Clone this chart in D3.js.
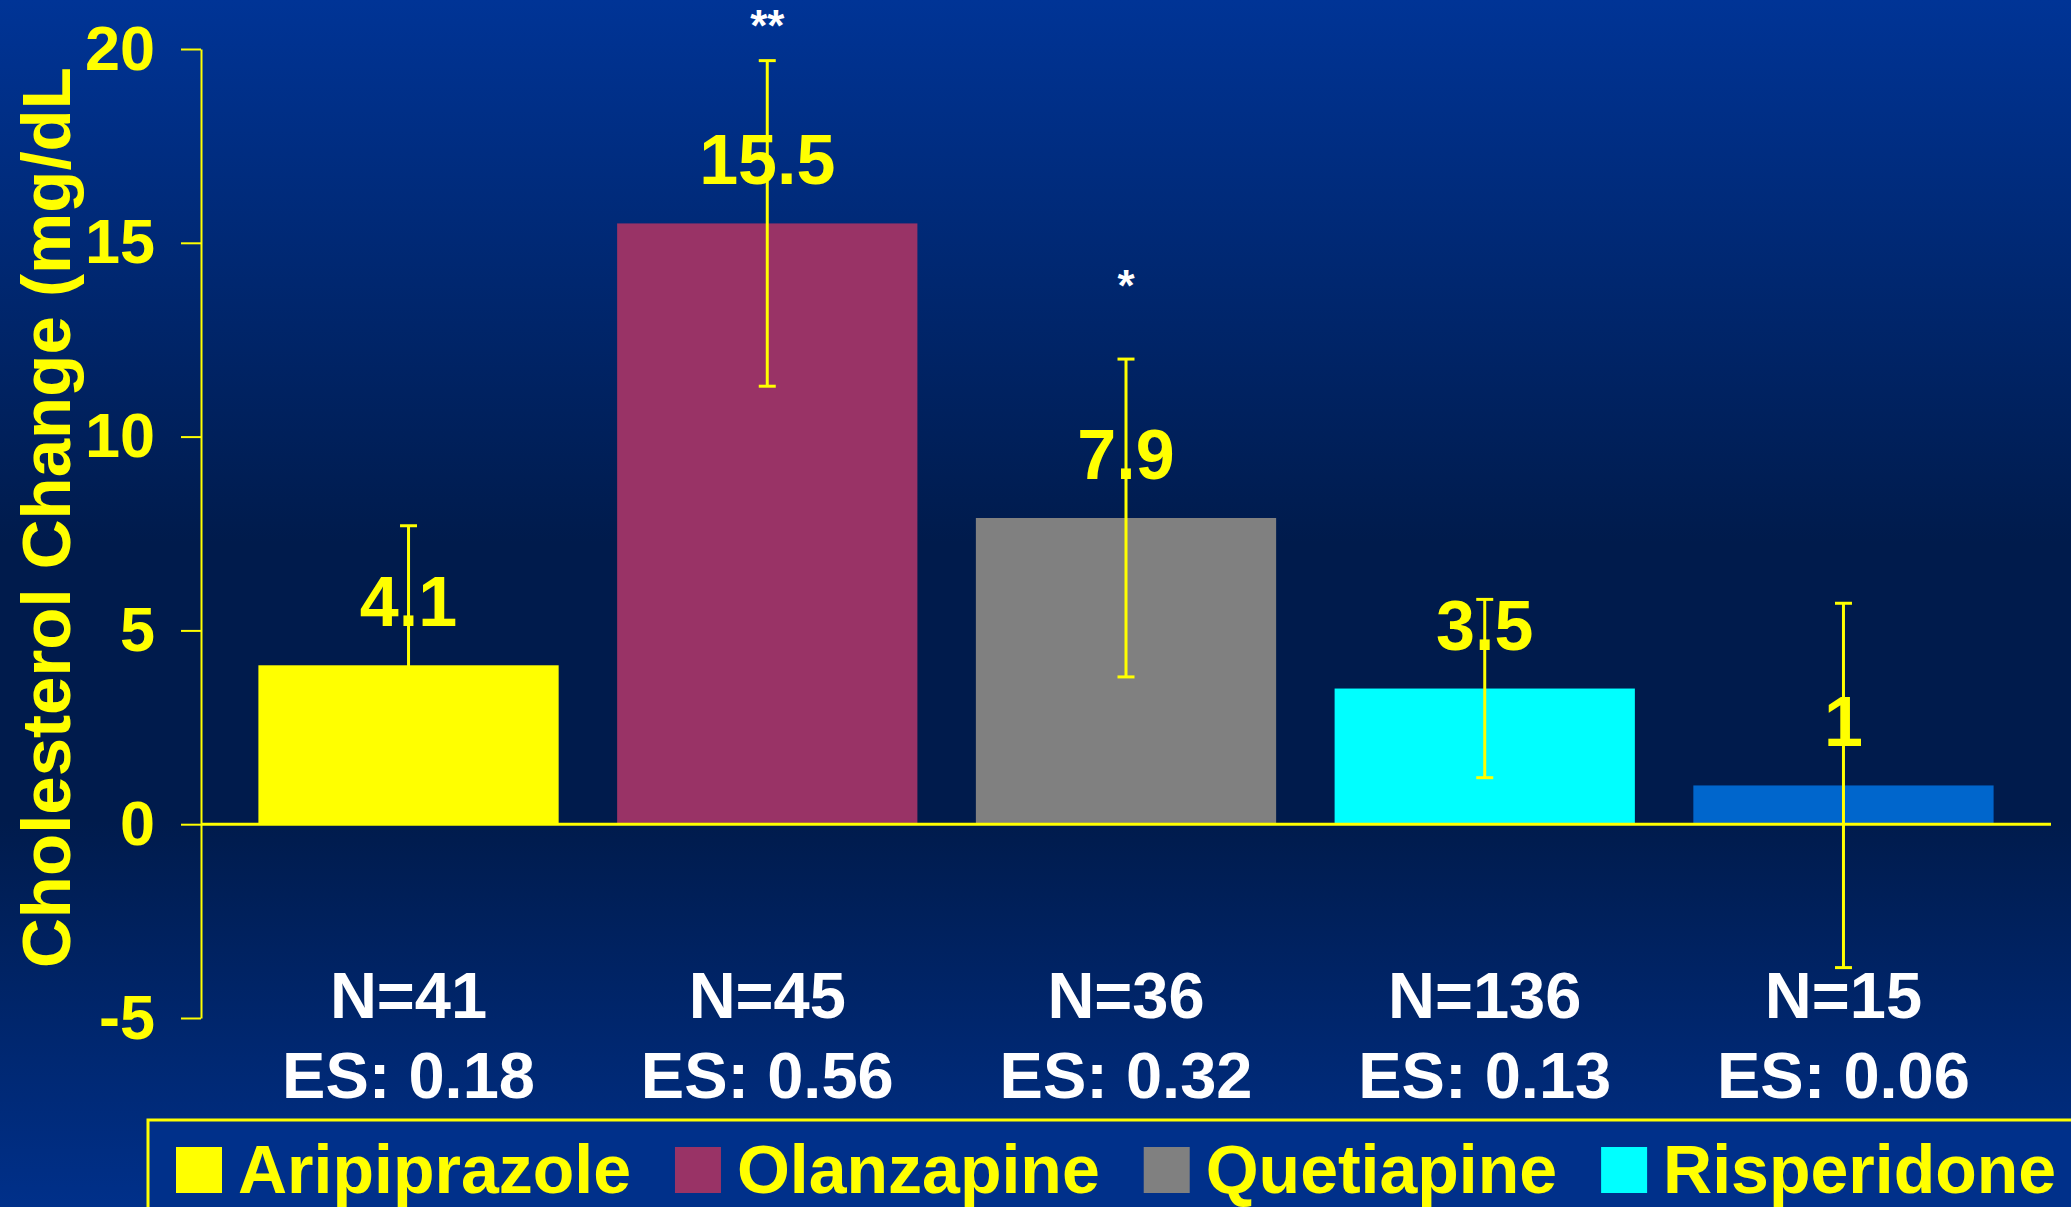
<!DOCTYPE html>
<html>
<head>
<meta charset="utf-8">
<script src="https://cdn.jsdelivr.net/npm/d3@7"></script>
<style>
html, body { margin: 0; padding: 0; overflow: hidden; background: #001b4c; }
svg { display: block; font-family: 'Liberation Sans', Arial, sans-serif; font-weight: bold; }
</style>
</head>
<body>
<svg id="chart"></svg>
<script>
// chart values
const drugs = ['Aripiprazole', 'Olanzapine', 'Quetiapine', 'Risperidone', 'Untreated'];
const changes = [4.1, 15.5, 7.9, 3.5, 1];
const errLow = [0.5, 11.3, 3.8, 1.2, -3.7];
const errHigh = [7.7, 19.7, 12.0, 5.8, 5.7];
const nLabels = ['N=41', 'N=45', 'N=36', 'N=136', 'N=15'];
const esLabels = ['ES: 0.18', 'ES: 0.56', 'ES: 0.32', 'ES: 0.13', 'ES: 0.06'];
const sigMarks = ['', '**', '*', '', ''];
const sigLevel = [null, 20.2, 13.5, null, null];
const yTicks = [-5, 0, 5, 10, 15, 20];

const W = 2071, H = 1207;
const yellow = '#ffff00';

const svg = d3.select('#chart')
.attr('width', W)
.attr('height', H);

// slide background, blue fading to dark navy and back
const grad = svg.append('defs').append('linearGradient')
.attr('id', 'bg')
.attr('x1', 0).attr('y1', 0).attr('x2', 0).attr('y2', 1);
[[0, '#003496'], [0.45, '#001b4c'], [0.68, '#001b4c'], [1, '#00308a']].forEach(s => {
  grad.append('stop').attr('offset', s[0]).attr('stop-color', s[1]);
});
svg.append('rect').attr('width', W).attr('height', H).attr('fill', 'url(#bg)');

const color = d3.scaleOrdinal()
.domain(drugs)
.range(['#ffff00', '#993366', '#808080', '#00ffff', '#0066cc']);

const x = d3.scaleBand()
.domain(drugs)
.range([201, 2051])
.paddingInner(0.163)
.paddingOuter(0.16);

const y = d3.scaleLinear()
.domain([-5, 20])
.range([1018, 49]);

const data = drugs.map((d, i) => ({
  drug: d, value: changes[i], lo: errLow[i], hi: errHigh[i],
  n: nLabels[i], es: esLabels[i], sig: sigMarks[i], sigAt: sigLevel[i]
}));

// y axis
const yAxis = svg.append('g')
.attr('transform', 'translate(201, 0)')
.call(d3.axisLeft(y).tickValues(yTicks).tickSize(20).tickSizeOuter(0).tickPadding(26).tickFormat(d => String(d)));
yAxis.attr('font-family', null).attr('font-size', null);
yAxis.select('.domain').attr('stroke', yellow).attr('stroke-width', 2);
yAxis.selectAll('.tick line').attr('stroke', yellow).attr('stroke-width', 2);
yAxis.selectAll('.tick text')
.attr('fill', yellow)
.style('font-size', '63px');

svg.append('text')
.attr('transform', 'translate(70, 968) rotate(-90)')
.attr('fill', yellow)
.style('font-size', '69px')
.text('Cholesterol Change (mg/dL');

// bars
svg.selectAll('.bar')
.data(data)
.enter()
.append('rect')
.attr('class', 'bar')
.attr('x', d => x(d.drug))
.attr('y', d => y(Math.max(0, d.value)))
.attr('width', x.bandwidth())
.attr('height', d => Math.abs(y(d.value) - y(0)))
.attr('fill', d => color(d.drug));

// zero line
svg.append('line')
.attr('x1', 201).attr('x2', 2051)
.attr('y1', y(0)).attr('y2', y(0))
.attr('stroke', yellow)
.attr('stroke-width', 3);

// error bars
const cx = d => x(d.drug) + x.bandwidth() / 2;
const err = svg.selectAll('.err')
.data(data)
.enter()
.append('g')
.attr('class', 'err')
.attr('stroke', yellow)
.attr('stroke-width', 3);
err.append('line')
.attr('x1', cx).attr('x2', cx)
.attr('y1', d => y(d.lo)).attr('y2', d => y(d.hi));
err.append('line')
.attr('x1', d => cx(d) - 8.5).attr('x2', d => cx(d) + 8.5)
.attr('y1', d => y(d.hi)).attr('y2', d => y(d.hi));
err.append('line')
.attr('x1', d => cx(d) - 8.5).attr('x2', d => cx(d) + 8.5)
.attr('y1', d => y(d.lo)).attr('y2', d => y(d.lo));

// value labels
svg.selectAll('.val')
.data(data)
.enter()
.append('text')
.attr('class', 'val')
.attr('x', cx)
.attr('y', d => y(d.value) - 39)
.attr('text-anchor', 'middle')
.attr('fill', yellow)
.style('font-size', '70px')
.text(d => String(d.value));

// significance stars
svg.selectAll('.sig')
.data(data.filter(d => d.sig))
.enter()
.append('text')
.attr('class', 'sig')
.attr('x', cx)
.attr('y', d => y(d.sigAt))
.attr('text-anchor', 'middle')
.attr('fill', '#ffffff')
.style('font-size', '44px')
.text(d => d.sig);

// N and effect size under each bar
const under = svg.selectAll('.under')
.data(data)
.enter()
.append('g')
.attr('class', 'under')
.attr('fill', '#ffffff')
.attr('text-anchor', 'middle')
.style('font-size', '65px');
under.append('text')
.attr('x', cx)
.attr('y', y(-5))
.text(d => d.n);
under.append('text')
.attr('x', cx)
.attr('y', y(-5) + 80)
.text(d => d.es);

// legend (runs off the slide edge, only entries that start on the slide)
const legend = svg.append('g');
legend.append('rect')
.attr('x', 148).attr('y', 1120)
.attr('width', 2200).attr('height', 200)
.attr('fill', '#00308a')
.attr('stroke', yellow)
.attr('stroke-width', 3);

let lx = 176;
drugs.forEach(d => {
  if (lx > W) return;
  legend.append('rect')
  .attr('x', lx).attr('y', 1147)
  .attr('width', 46).attr('height', 46)
  .attr('fill', color(d));
  const t = legend.append('text')
  .attr('x', lx + 62).attr('y', 1193)
  .attr('fill', yellow)
  .style('font-size', '68px')
  .text(d);
  lx += 62 + t.node().getComputedTextLength() + 44;
});
</script>
</body>
</html>
